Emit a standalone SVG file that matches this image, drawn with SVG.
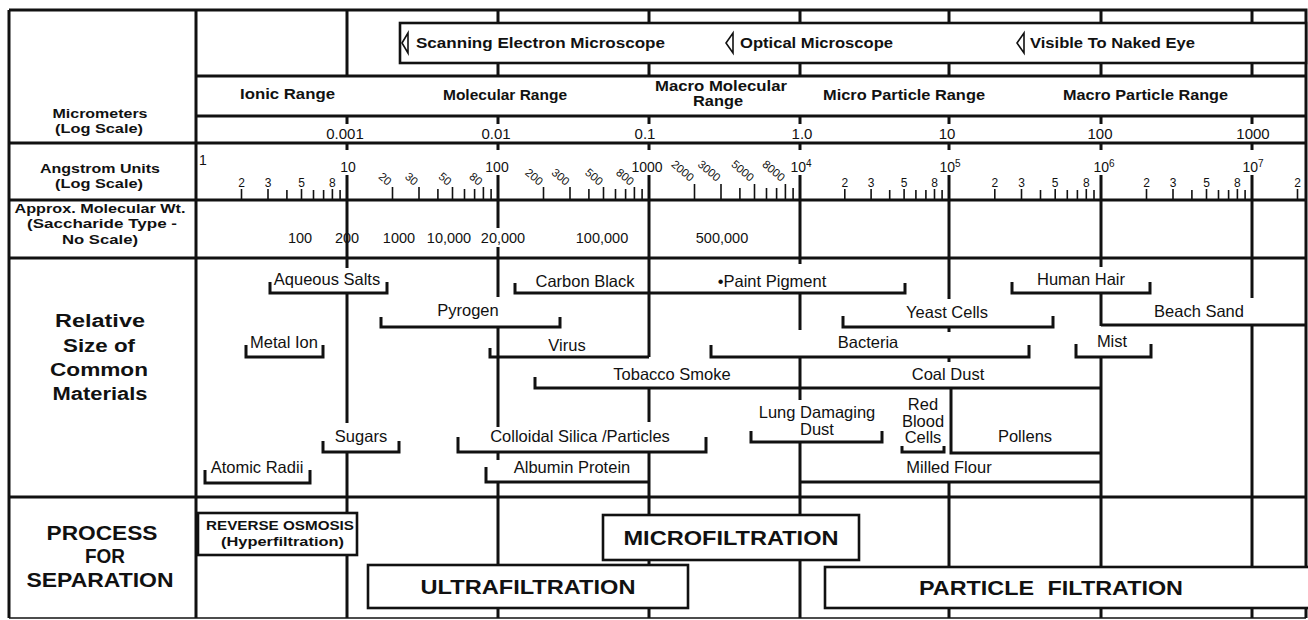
<svg xmlns="http://www.w3.org/2000/svg" width="1308" height="620" viewBox="0 0 1308 620">
<style>
.t{font-family:"Liberation Sans",Arial,sans-serif;fill:#111}
.b{font-weight:bold}
.m{text-anchor:middle}
.e{text-anchor:end}
.ln{stroke:#111;stroke-width:3;fill:none}
.dl{stroke:#111;stroke-width:3;fill:none}
.br{stroke:#111;stroke-width:3;fill:none;stroke-linejoin:miter}
.tk{stroke:#111;stroke-width:1.6;fill:none}
.box{fill:#fff;stroke:#111;stroke-width:2.6}
.mk{fill:#fff;stroke:#111;stroke-width:1.6}
.mat{font-size:16.5px}
.ang{font-size:14px}
.mn{font-size:12px}
.rt{font-size:11.5px}
.mw{font-size:14.5px}
.um{font-size:15px}
</style>
<rect x="0" y="0" width="1308" height="620" fill="#fff"/>

<g id="grid">
  <path class="ln" d="M9 10 H1306 V618 M9 10 V618"/>
  <path stroke="#111" stroke-width="1.4" fill="none" d="M9 618 H1306"/>
  <path class="ln" d="M196 10 V618 M196 76 H1306 M196 116 H1306 M9 143 H1306 M9 200 H1306 M9 258 H1306 M9 497 H1306"/>
  <rect class="box" x="400" y="23" width="906" height="40"/>
</g>

<g id="row-labels">
  <text class="t b m" x="100" y="118" font-size="12" textLength="95" lengthAdjust="spacingAndGlyphs">Micrometers</text>
  <text class="t b m" x="99" y="133" font-size="12" textLength="88" lengthAdjust="spacingAndGlyphs">(Log Scale)</text>
  <text class="t b m" x="100" y="173" font-size="13" textLength="120" lengthAdjust="spacingAndGlyphs">Angstrom Units</text>
  <text class="t b m" x="99" y="188" font-size="13" textLength="88" lengthAdjust="spacingAndGlyphs">(Log Scale)</text>
  <text class="t b m" x="100" y="213" font-size="13" textLength="171" lengthAdjust="spacingAndGlyphs">Approx. Molecular Wt.</text>
  <text class="t b m" x="102" y="228" font-size="13" textLength="150" lengthAdjust="spacingAndGlyphs">(Saccharide Type -</text>
  <text class="t b m" x="100" y="244" font-size="13" textLength="76" lengthAdjust="spacingAndGlyphs">No Scale)</text>
  <text class="t b m" x="100" y="327" font-size="18" textLength="90" lengthAdjust="spacingAndGlyphs">Relative</text>
  <text class="t b m" x="99" y="352" font-size="18" textLength="72" lengthAdjust="spacingAndGlyphs">Size of</text>
  <text class="t b m" x="99" y="376" font-size="18" textLength="98" lengthAdjust="spacingAndGlyphs">Common</text>
  <text class="t b m" x="100" y="400" font-size="18" textLength="95" lengthAdjust="spacingAndGlyphs">Materials</text>
  <text class="t b m" x="102" y="540" font-size="20" textLength="111" lengthAdjust="spacingAndGlyphs">PROCESS</text>
  <text class="t b m" x="105" y="563" font-size="20" textLength="40" lengthAdjust="spacingAndGlyphs">FOR</text>
  <text class="t b m" x="100" y="587" font-size="20" textLength="147" lengthAdjust="spacingAndGlyphs">SEPARATION</text>
</g>

<g id="connectors">
  <path class="dl" d="M347 10 V76 M498 10 V23 M498 63 V76 M649 10 V23 M649 63 V76 M800 10 V23 M800 63 V76 M949 10 V23 M949 63 V76 M1101 10 V23 M1101 63 V76 M1252 10 V23 M1252 63 V76"/>
  <path class="dl" d="M347 116 V124 M498 116 V124 M649 116 V124 M800 116 V124 M949 116 V124 M1101 116 V124 M1252 116 V124"/>
  <path class="dl" d="M347 143 V150 M347 175 V200 M498 143 V150 M498 175 V200 M649 143 V150 M649 175 V200 M800 143 V150 M800 175 V200 M949 143 V150 M949 175 V200 M1101 143 V150 M1101 175 V200 M1252 143 V150 M1252 175 V200"/>
  <path class="dl" d="M347 200 V258 M498 200 V228 M498 247 V258 M649 200 V258 M800 200 V258 M949 200 V258 M1101 200 V258 M1252 200 V258"/>
  <path class="dl" d="M347 258 V268 M347 293 V423 M347 452 V497"/>
  <path class="dl" d="M498 258 V297 M498 327 V427 M498 452 V460 M498 482 V497"/>
  <path class="dl" d="M649 258 V357 M649 388 V422 M649 452 V497"/>
  <path class="dl" d="M800 258 V264 M800 293 V330 M800 357 V400 M800 442 V497"/>
  <path class="dl" d="M949 258 V299 M949 327 V332 M949 357 V362 M949 482 V497"/>
  <path class="dl" d="M1101 258 V267 M1101 293 V326 M1101 357 V497"/>
  <path class="dl" d="M1252 258 V298 M1252 325 V497"/>
  <path class="dl" d="M347 497 V618 M498 497 V618 M649 497 V618 M800 497 V618 M949 497 V618 M1101 497 V618 M1252 497 V618"/>
</g>

<g id="microscopes">
  <polygon class="mk" points="402,43 408,33 408,53"/>
  <text class="t b" x="416" y="48" font-size="14" textLength="249" lengthAdjust="spacingAndGlyphs">Scanning Electron Microscope</text>
  <polygon class="mk" points="726,43 733,33 733,53"/>
  <text class="t b" x="740" y="48" font-size="14" textLength="153" lengthAdjust="spacingAndGlyphs">Optical Microscope</text>
  <polygon class="mk" points="1017,43 1024,33 1024,53"/>
  <text class="t b" x="1030" y="48" font-size="14" textLength="165" lengthAdjust="spacingAndGlyphs">Visible To Naked Eye</text>
</g>

<g id="ranges">
  <text class="t b" x="240" y="99" font-size="14" textLength="95" lengthAdjust="spacingAndGlyphs">Ionic Range</text>
  <text class="t b" x="443" y="100" font-size="14" textLength="124" lengthAdjust="spacingAndGlyphs">Molecular Range</text>
  <text class="t b" x="655" y="91" font-size="14" textLength="132" lengthAdjust="spacingAndGlyphs">Macro Molecular</text>
  <text class="t b" x="693" y="106" font-size="14" textLength="50" lengthAdjust="spacingAndGlyphs">Range</text>
  <text class="t b" x="823" y="100" font-size="14" textLength="162" lengthAdjust="spacingAndGlyphs">Micro Particle Range</text>
  <text class="t b" x="1063" y="100" font-size="14" textLength="165" lengthAdjust="spacingAndGlyphs">Macro Particle Range</text>
</g>

<g id="micrometers">
  <text class="t um m" x="345" y="139">0.001</text>
  <text class="t um m" x="496" y="139">0.01</text>
  <text class="t um m" x="645" y="139">0.1</text>
  <text class="t um m" x="802" y="139">1.0</text>
  <text class="t um m" x="947" y="139">10</text>
  <text class="t um m" x="1100" y="139">100</text>
  <text class="t um m" x="1253" y="139">1000</text>
</g>

<g id="angstrom">
  <text class="t ang" x="199" y="165">1</text>
  <text class="t ang m" x="348" y="172">10</text>
  <text class="t ang m" x="497" y="172">100</text>
  <text class="t ang m" x="647" y="172">1000</text>
  <text class="t ang m" x="801" y="172">10<tspan font-size="10" dy="-5">4</tspan></text>
  <text class="t ang m" x="950" y="172">10<tspan font-size="10" dy="-5">5</tspan></text>
  <text class="t ang m" x="1104" y="172">10<tspan font-size="10" dy="-5">6</tspan></text>
  <text class="t ang m" x="1253" y="172">10<tspan font-size="10" dy="-5">7</tspan></text>
  <path class="tk" d="M241.5 189V200M268 189V200M286.9 190V200M301.5 189V200M313.5 190V200M323.6 190V200M332.4 189V200M340.1 190V200
  M392.5 187V200M419 187V200M437.9 189V200M452.5 187V200M464.5 189V200M474.6 189V200M483.4 187V200M491.1 189V200
  M543.5 187V200M570 187V200M588.9 189V200M603.5 187V200M615.5 189V200M625.6 189V200M634.4 187V200M642.1 189V200
  M694.5 184V200M721 184V200M739.9 188V200M754.5 184V200M766.5 188V200M776.6 188V200M785.4 184V200M793.1 188V200
  M844.8 189V200M871.1 189V200M889.7 190V200M904.1 189V200M915.9 190V200M925.9 190V200M934.5 189V200M942.1 190V200
  M994.8 189V200M1021.5 189V200M1040.5 190V200M1055.2 189V200M1067.3 190V200M1077.4 190V200M1086.3 189V200M1094 190V200
  M1146.5 189V200M1173 189V200M1191.9 190V200M1206.5 189V200M1218.5 190V200M1228.6 190V200M1237.4 189V200M1245.1 190V200
  M1297.5 189V200"/>
  <g class="t mn m">
    <text x="241.5" y="187">2</text><text x="268" y="187">3</text><text x="301.5" y="187">5</text><text x="332.4" y="187">8</text>
    <text x="844.8" y="187">2</text><text x="871.1" y="187">3</text><text x="904.1" y="187">5</text><text x="934.5" y="187">8</text>
    <text x="994.8" y="187">2</text><text x="1021.5" y="187">3</text><text x="1055.2" y="187">5</text><text x="1086.3" y="187">8</text>
    <text x="1146.5" y="187">2</text><text x="1173" y="187">3</text><text x="1206.5" y="187">5</text><text x="1237.4" y="187">8</text>
    <text x="1297.5" y="187">2</text>
  </g>
  <g class="t rt e">
    <text transform="translate(387.5,186) rotate(40)">20</text>
    <text transform="translate(414,186) rotate(40)">30</text>
    <text transform="translate(447.5,186) rotate(40)">50</text>
    <text transform="translate(478.4,186) rotate(40)">80</text>
    <text transform="translate(539,186) rotate(40)">200</text>
    <text transform="translate(565.5,186) rotate(40)">300</text>
    <text transform="translate(599,186) rotate(40)">500</text>
    <text transform="translate(630,186) rotate(40)">800</text>
    <text transform="translate(690,182) rotate(40)">2000</text>
    <text transform="translate(716.5,182) rotate(40)">3000</text>
    <text transform="translate(750,182) rotate(40)">5000</text>
    <text transform="translate(781,182) rotate(40)">8000</text>
  </g>
</g>

<g id="molecular-weight" class="t mw m">
  <text x="300" y="243">100</text>
  <text x="347" y="243">200</text>
  <text x="399" y="243">1000</text>
  <text x="449" y="243">10,000</text>
  <text x="503" y="243">20,000</text>
  <text x="602" y="243">100,000</text>
  <text x="722" y="243">500,000</text>
</g>

<g id="aqueous-salts"><path class="br" d="M270 282V293H387V282"/><text class="t mat m" x="327" y="285">Aqueous Salts</text></g>
<g id="carbon-black"><path class="br" d="M515 283V293H905V283"/><text class="t mat m" x="585" y="287">Carbon Black</text></g>
<g id="paint-pigment"><text class="t mat m" x="772" y="287">•Paint Pigment</text></g>
<g id="human-hair"><path class="br" d="M1012 282V293H1150V282"/><text class="t mat m" x="1081" y="285">Human Hair</text></g>
<g id="pyrogen"><path class="br" d="M381 317V327H560V317"/><text class="t mat m" x="468" y="316">Pyrogen</text></g>
<g id="yeast-cells"><path class="br" d="M843 316V327H1053V316"/><text class="t mat m" x="947" y="318">Yeast Cells</text></g>
<g id="beach-sand"><path class="br" d="M1101 325H1306"/><text class="t mat m" x="1199" y="317">Beach Sand</text></g>
<g id="metal-ion"><path class="br" d="M246 345V357H323V345"/><text class="t mat m" x="284" y="348">Metal Ion</text></g>
<g id="virus"><path class="br" d="M490 348V357H649"/><text class="t mat m" x="567" y="351">Virus</text></g>
<g id="bacteria"><path class="br" d="M711 345V357H1029V345"/><text class="t mat m" x="868" y="348">Bacteria</text></g>
<g id="mist"><path class="br" d="M1076 344V357H1151V344"/><text class="t mat m" x="1112" y="347">Mist</text></g>
<g id="tobacco-smoke"><path class="br" d="M535 377V388H1101"/><text class="t mat m" x="672" y="380">Tobacco Smoke</text></g>
<g id="coal-dust"><text class="t mat m" x="948" y="380">Coal Dust</text></g>
<g id="sugars"><path class="br" d="M323 441V452H399V441"/><text class="t mat m" x="361" y="442">Sugars</text></g>
<g id="colloidal-silica"><path class="br" d="M458 437V452H706V437"/><text class="t mat m" x="580" y="442">Colloidal Silica /Particles</text></g>
<g id="lung-damaging-dust"><path class="br" d="M751 431V442H882V431"/><text class="t mat m" x="817" y="418">Lung Damaging</text><text class="t mat m" x="817" y="435">Dust</text></g>
<g id="red-blood-cells"><path class="br" d="M902 446V452H944V446"/><text class="t mat m" x="923" y="410">Red</text><text class="t mat m" x="923" y="427">Blood</text><text class="t mat m" x="923" y="443">Cells</text></g>
<g id="pollens"><path class="br" d="M951 388V453H1101"/><text class="t mat m" x="1025" y="442">Pollens</text></g>
<g id="atomic-radii"><path class="br" d="M205 470V483H310V470"/><text class="t mat m" x="257" y="473">Atomic Radii</text></g>
<g id="albumin-protein"><path class="br" d="M486 467V482H649"/><text class="t mat m" x="572" y="473">Albumin Protein</text></g>
<g id="milled-flour"><path class="br" d="M800 482H1101"/><text class="t mat m" x="949" y="473">Milled Flour</text></g>

<g id="reverse-osmosis"><rect class="box" x="198" y="513" width="159" height="42"/><text class="t b" x="206" y="530" font-size="13" textLength="148" lengthAdjust="spacingAndGlyphs">REVERSE OSMOSIS</text><text class="t b" x="221" y="546" font-size="12" textLength="123" lengthAdjust="spacingAndGlyphs">(Hyperfiltration)</text></g>
<g id="microfiltration"><rect class="box" x="603" y="515" width="256" height="45"/><text class="t b m" x="731" y="545" font-size="20" textLength="215" lengthAdjust="spacingAndGlyphs">MICROFILTRATION</text></g>
<g id="ultrafiltration"><rect class="box" x="368" y="565" width="320" height="43"/><text class="t b m" x="528" y="594" font-size="20" textLength="215" lengthAdjust="spacingAndGlyphs">ULTRAFILTRATION</text></g>
<g id="particle-filtration"><rect class="box" x="825" y="567" width="500" height="41"/><text class="t b m" x="1051" y="595" font-size="20" word-spacing="6" textLength="264" lengthAdjust="spacingAndGlyphs">PARTICLE FILTRATION</text></g>
</svg>
